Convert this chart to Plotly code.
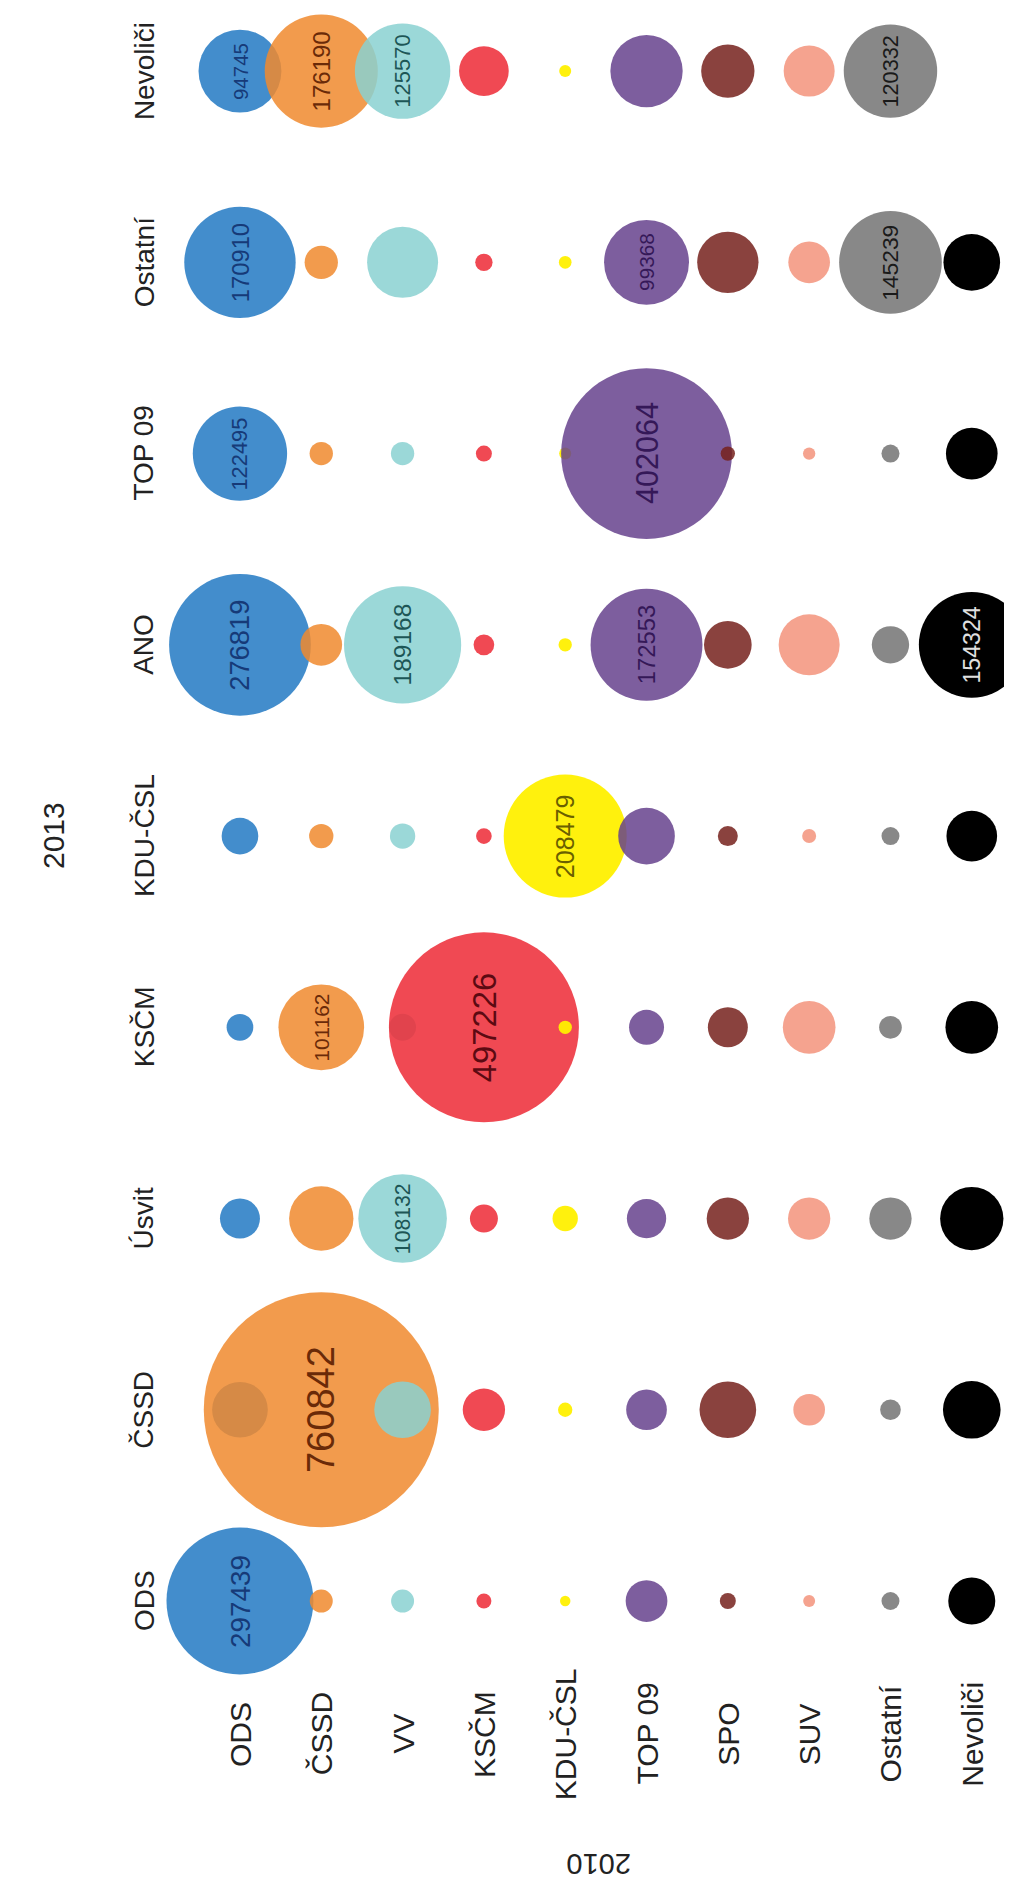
import plotly.graph_objects as go

# 2010 parties (horizontal), 2013 parties (vertical, bottom -> top)
parties_2010 = ["ODS", "ČSSD", "VV", "KSČM", "KDU-ČSL", "TOP 09", "SPO", "SUV", "Ostatní", "Nevoliči"]
parties_2013 = ["ODS", "ČSSD", "Úsvit", "KSČM", "KDU-ČSL", "ANO", "TOP 09", "Ostatní", "Nevoliči"]

# voters of each 2010 party going to each 2013 party (order of parties_2013)
ods_2010 = [297439, 42730, 22050, 9800, 18520, 276819, 122495, 170910, 94745]
cssd_2010 = [7290, 760842, 57030, 101162, 8160, 23930, 7500, 15300, 176190]
vv_2010 = [7290, 44230, 108132, 10000, 8840, 189168, 7500, 69440, 125570]
kscm_2010 = [3100, 24660, 10800, 497226, 3380, 5890, 3530, 4140, 34040]
kdu_2010 = [1500, 2830, 8840, 2450, 208479, 2450, 2000, 2210, 1984]
top09_2010 = [24000, 22800, 21300, 16880, 44230, 172553, 402064, 99368, 72040]
spo_2010 = [3530, 44230, 24660, 22050, 5510, 31330, 2830, 51800, 39160]
suv_2010 = [1980, 13800, 24660, 38260, 2700, 51270, 2100, 23930, 35840]
ostatni_2010 = [4465, 5890, 24660, 7080, 4465, 19200, 4465, 145239, 120332]
nevolici_2010 = [30440, 45800, 55220, 38260, 35390, 154324, 36790, 44230, None]

flows = [ods_2010, cssd_2010, vv_2010, kscm_2010, kdu_2010, top09_2010,
         spo_2010, suv_2010, ostatni_2010, nevolici_2010]

colors = ["rgba(34,121,195,0.85)", "rgba(240,138,46,0.85)", "rgba(138,209,209,0.85)",
          "rgba(237,41,53,0.85)", "rgba(255,240,0,0.95)", "rgba(102,66,141,0.85)",
          "rgba(118,33,28,0.85)", "rgba(243,147,123,0.85)", "rgba(115,115,115,0.85)",
          "rgba(0,0,0,1)"]
text_colors = ["#163a78", "#6a2a08", "#1d5656", "#5c0a12", "#6a6000", "#351858",
               "#3a0a08", "#6a2a20", "#1a1a1a", "#e0e0e0"]

W, H = 1012, 1880
ML, MR, MT, MB = 180, 10, 0, 230
PW, PH = W - ML - MR, H - MT - MB
FONT = "Liberation Sans, Arial, sans-serif"

vmax = max(v for col in flows for v in col if v)
DMAX = 235.0
sizeref = 2.0 * vmax / DMAX ** 2

fig = go.Figure()
annotations = []
for i, (p10, col) in enumerate(zip(parties_2010, flows)):
    xs, ys, ss = [], [], []
    for p13, v in zip(parties_2013, col):
        if not v:
            continue
        xs.append(p10)
        ys.append(p13)
        ss.append(v)
        if v > 90000:
            d = DMAX * (v / vmax) ** 0.5
            annotations.append(dict(
                x=p10, y=p13, xref="x", yref="y", text=str(v), showarrow=False,
                textangle=-90, xanchor="center", yanchor="middle",
                font=dict(family=FONT, size=11 + 0.115 * d, color=text_colors[i])))
    fig.add_trace(go.Scatter(
        x=xs, y=ys, mode="markers", name=p10, cliponaxis=False,
        marker=dict(size=ss, sizemode="area", sizeref=sizeref, opacity=1,
                    color=colors[i], line=dict(width=0)),
        hoverinfo="x+y+text", text=[str(s) for s in ss]))

# tick labels (2010) along the bottom, rotated
for p in parties_2010:
    annotations.append(dict(x=p, xref="x", y=(PH - 1726 + MT) / PH, yref="paper",
                            text=p, showarrow=False, textangle=-90,
                            xanchor="center", yanchor="middle",
                            font=dict(family=FONT, size=30, color="#222")))
# tick labels (2013) on the left, rotated
for p in parties_2013:
    annotations.append(dict(x=(136 - ML) / PW, xref="paper", y=p, yref="y",
                            text=p, showarrow=False, textangle=-90,
                            xanchor="center", yanchor="middle",
                            font=dict(family=FONT, size=28, color="#222")))
# axis titles
annotations.append(dict(x=(45 - ML) / PW, xref="paper", y=(PH - 828 + MT) / PH, yref="paper",
                        text="2013", showarrow=False, textangle=-90,
                        xanchor="center", yanchor="middle",
                        font=dict(family=FONT, size=30, color="#222")))
annotations.append(dict(x=(591 - ML) / PW, xref="paper", y=(PH - 1856 + MT) / PH, yref="paper",
                        text="2010", showarrow=False, textangle=180,
                        xanchor="center", yanchor="middle",
                        font=dict(family=FONT, size=29, color="#222")))

fig.update_layout(
    width=W, height=H, margin=dict(l=ML, r=MR, t=MT, b=MB),
    paper_bgcolor="white", plot_bgcolor="white", showlegend=False,
    annotations=annotations,
    xaxis=dict(type="category", categoryorder="array", categoryarray=parties_2010,
               range=[-0.639, 9.47], showticklabels=False, showgrid=False,
               zeroline=False, showline=False, ticks=""),
    yaxis=dict(type="category", categoryorder="array", categoryarray=parties_2013,
               range=[-0.298, 8.33], showticklabels=False, showgrid=False,
               zeroline=False, showline=False, ticks=""),
)
fig.write_html("out.html")
